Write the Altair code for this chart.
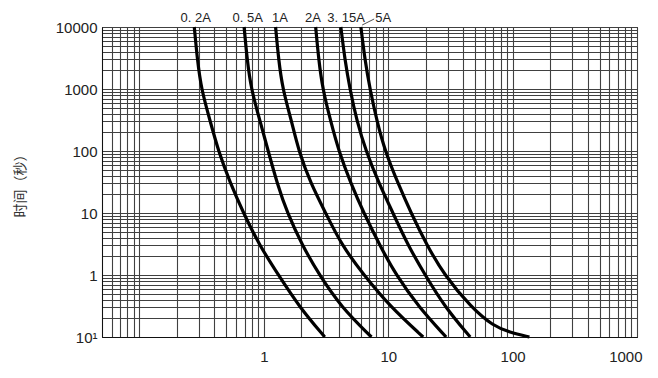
import altair as alt
import pandas as pd

# time levels (s) at which each curve was read
times = [10000, 3000, 1000, 300, 100, 30, 10, 3, 1, 0.3, 0.1]
times_5a = [10000, 3000, 1000, 300, 100, 30, 10, 3, 1, 0.3, 0.15, 0.12, 0.1]

# current (A) of each curve at those times
cur_02a = [0.276, 0.292, 0.314, 0.371, 0.431, 0.538, 0.686, 0.923, 1.31, 1.94, 3.09]
cur_05a = [0.694, 0.734, 0.790, 0.934, 1.084, 1.280, 1.542, 2.04, 2.79, 4.21, 7.33]
cur_1a = [1.243, 1.314, 1.416, 1.673, 1.906, 2.38, 3.14, 4.23, 6.37, 10.5, 19.1]
cur_2a = [2.61, 2.76, 2.97, 3.45, 4.00, 5.00, 6.36, 8.57, 11.53, 17.7, 29.2]
cur_315a = [4.16, 4.48, 4.92, 5.60, 6.62, 8.42, 10.92, 14.43, 19.8, 28.7, 45.6]
cur_5a = [6.03, 6.49, 7.13, 8.12, 9.42, 11.99, 15.26, 20.5, 28.2, 46.5, 70.0, 94.2, 136.5]

series_names = ["0.2A", "0.5A", "1A", "2A", "3.15A", "5A"]
series_currents = [cur_02a, cur_05a, cur_1a, cur_2a, cur_315a, cur_5a]
series_times = [times, times, times, times, times, times_5a]

# curve labels along the top
label_texts = ["0. 2A", "0. 5A", "1A", "2A", "3. 15A", "5A"]
label_currents = [0.283, 0.743, 1.346, 2.48, 4.58, 9.12]

# leader line from the 5A curve to its label
leader_x = [6.17]
leader_x2 = [7.71]
leader_y = [10755]
leader_y2 = [13460]

# grid / tick values
x_ticks = [0.05, 0.06, 0.07, 0.08, 0.09,
           0.1, 0.2, 0.3, 0.4, 0.5, 0.6, 0.7, 0.8, 0.9,
           1, 2, 3, 4, 5, 6, 7, 8, 9,
           10, 20, 30, 40, 50, 60, 70, 80, 90,
           100, 200, 300, 400, 500, 600, 700, 800, 900, 1000]
y_ticks = [0.1, 0.2, 0.3, 0.4, 0.5, 0.6, 0.7, 0.8, 0.9,
           1, 2, 3, 4, 5, 6, 7, 8, 9,
           10, 20, 30, 40, 50, 60, 70, 80, 90,
           100, 200, 300, 400, 500, 600, 700, 800, 900,
           1000, 2000, 3000, 4000, 5000, 6000, 7000, 8000, 9000, 10000]
x_label_values = [1, 10, 100, 1000]
x_label_texts = ["1", "10", "100", "1000"]
y_label_values = [0.1, 1, 10, 100, 1000, 10000]
y_label_texts = ["10¹", "1", "10", "100", "1000", "10000"]

rows = []
for name, curs, ts in zip(series_names, series_currents, series_times):
    for i, (c, t) in enumerate(zip(curs, ts)):
        rows.append({"series": name, "current": c, "time": t, "order": i})
df = pd.DataFrame(rows)

labels_df = pd.DataFrame({"label": label_texts, "current": label_currents})
leader_df = pd.DataFrame({"x": leader_x, "x2": leader_x2, "y": leader_y, "y2": leader_y2})


def make_expr(vals, texts):
    expr = "''"
    for v, t in zip(reversed(vals), reversed(texts)):
        expr = f"datum.value == {v} ? '{t}' : ({expr})"
    return expr


xscale = alt.Scale(type="log", domain=[0.05, 1000])
yscale = alt.Scale(type="log", domain=[0.1, 10000])

tick_font = "Liberation Sans"

x_axis = alt.Axis(values=x_ticks, labelExpr=make_expr(x_label_values, x_label_texts),
                  grid=True, ticks=False, title=None, labelOverlap=False, labelFlush=True,
                  labelFlushOffset=5, labelBound=False,
                  labelPadding=12, labelFont=tick_font, labelFontSize=15, labelColor="#222")
y_axis = alt.Axis(values=y_ticks, labelExpr=make_expr(y_label_values, y_label_texts),
                  grid=True, ticks=False, title="时间（秒）", labelOverlap=False,
                  labelPadding=5, labelFont=tick_font, labelFontSize=15, labelColor="#222",
                  titleFont="Noto Sans CJK SC", titleFontSize=14, titleFontWeight="normal",
                  titleColor="#333", titlePadding=28)

lines = alt.Chart(df).mark_line(color="black", strokeWidth=3.2, interpolate="basis").encode(
    x=alt.X("current:Q", scale=xscale, axis=x_axis),
    y=alt.Y("time:Q", scale=yscale, axis=y_axis),
    detail="series:N",
    order="order:Q",
)

texts = alt.Chart(labels_df).mark_text(font="Liberation Sans", fontSize=13, color="#222",
                                       align="center", baseline="middle").encode(
    x=alt.X("current:Q", scale=xscale),
    y=alt.value(-9),
    text="label:N",
)

leader = alt.Chart(leader_df).mark_rule(color="#222", strokeWidth=0.8).encode(
    x=alt.X("x:Q", scale=xscale),
    x2="x2:Q",
    y=alt.Y("y:Q", scale=yscale),
    y2="y2:Q",
)

chart = alt.layer(lines, texts, leader).properties(
    width=535, height=310,
    padding={"left": 5, "top": 4, "right": 2, "bottom": 0},
).configure_axis(
    gridColor="#404040", gridWidth=1.1, gridOpacity=1, domainColor="#111", domainWidth=1,
).configure_view(stroke="#111", strokeWidth=1)

chart.save("out.html", embed_options={"renderer": "svg", "actions": False})
